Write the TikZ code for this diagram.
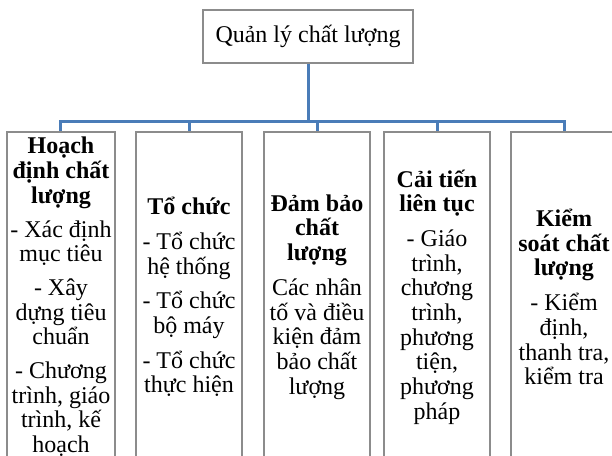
\documentclass[tikz,border=0pt]{standalone}
\usepackage{fontspec}
\setmainfont{Liberation Serif}
\definecolor{connblue}{RGB}{74,124,184}
\definecolor{boxgray}{RGB}{140,140,140}
\begin{document}
\begin{tikzpicture}[x=1pt,y=-1pt,
  txt/.style={font=\fontsize{24}{24.7}\selectfont, align=center},
  topbox/.style={txt, draw=boxgray, line width=1.2pt, fill=white, minimum width=210pt, minimum height=53pt, inner sep=0pt},
  colbox/.style={txt, draw=boxgray, line width=1.2pt, fill=white, minimum width=106pt, minimum height=330pt, inner sep=0pt},
  conn/.style={draw=connblue, line width=3pt}]
\useasboundingbox (0,0) rectangle (612,455);
\clip (0,0) rectangle (612,455);
\fill[white] (0,0) rectangle (612,455);
\coordinate (busy) at (0,121);
% connectors
\coordinate (c0) at (308,63);
\coordinate (c1) at (60,132);
\coordinate (c2) at (189,132);
\coordinate (c3) at (317,132);
\coordinate (c4) at (437,132);
\coordinate (c5) at (564,132);
\draw[conn] (c0) -- (c0 |- busy);
\draw[conn] (c1) -- (c1 |- busy) -- (c5 |- busy) -- (c5);
\draw[conn] (c2) -- (c2 |- busy);
\draw[conn] (c3) -- (c3 |- busy);
\draw[conn] (c4) -- (c4 |- busy);
% boxes
\node[topbox] (top) at (308,36.5) {Quản lý chất lượng};
\node[colbox, minimum width=108pt] (b1) at (61,297) {\textbf{Hoạch}\\\textbf{định chất}\\\textbf{lượng}\\[9pt]- Xác định\\mục tiêu\\[9pt]- Xây\\dựng tiêu\\chuẩn\\[9pt]- Chương\\trình, giáo\\trình, kế\\hoạch};
\node[colbox] (b2) at (189,297) {\textbf{Tổ chức}\\[10pt]- Tổ chức\\hệ thống\\[10pt]- Tổ chức\\bộ máy\\[10pt]- Tổ chức\\thực hiện};
\node[colbox] (b3) at (317,297) {\textbf{Đảm bảo}\\\textbf{chất}\\\textbf{lượng}\\[10pt]Các nhân\\tố và điều\\kiện đảm\\bảo chất\\lượng};
\node[colbox] (b4) at (437,297) {\textbf{Cải tiến}\\\textbf{liên tục}\\[10pt]- Giáo\\trình,\\chương\\trình,\\phương\\tiện,\\phương\\pháp};
\node[colbox] (b5) at (564,297) {\textbf{Kiểm}\\\textbf{soát chất}\\\textbf{lượng}\\[10pt]- Kiểm\\định,\\thanh tra,\\kiểm tra};
\end{tikzpicture}
\end{document}
